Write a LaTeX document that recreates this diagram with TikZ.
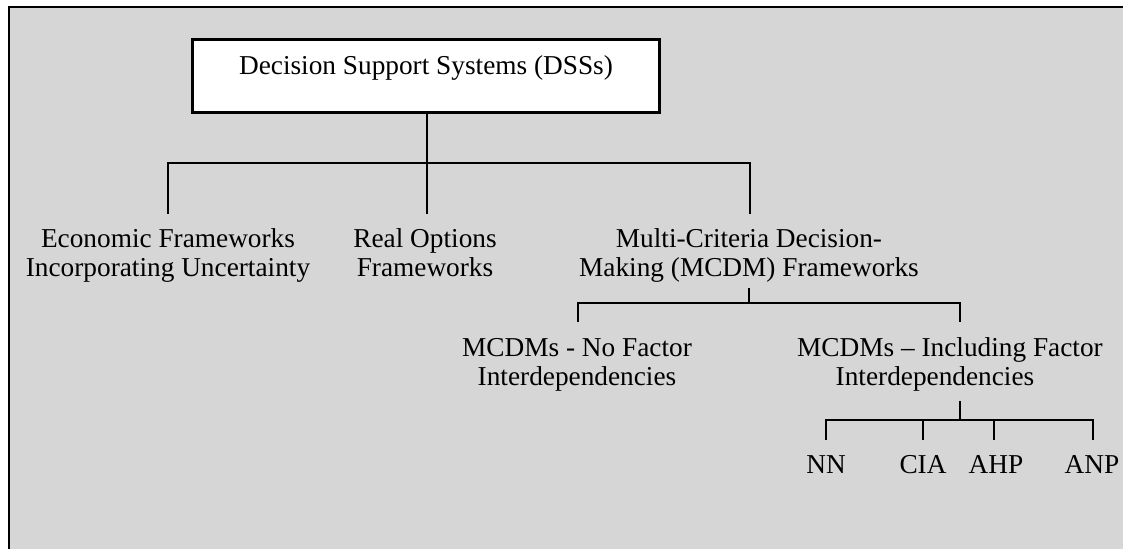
\documentclass[tikz,border=0pt]{standalone}
\usepackage{fontspec}
\setmainfont{Liberation Serif}
\definecolor{panel}{RGB}{214,214,214}
\begin{document}
\begin{tikzpicture}[x=1bp,y=-1bp,
  txt/.style={font=\fontsize{27.4}{30}\selectfont, align=center, inner sep=0pt, anchor=base},
  link/.style={line width=2.5bp, line join=miter}]
\useasboundingbox (0,0) rectangle (1123,549);
\clip (0,0) rectangle (1123,549);
% grey panel with its frame
\draw[line width=2bp, fill=panel] (9,7) rectangle (1140,570);

% root box
\node[draw, line width=3bp, fill=white, minimum width=466bp, inner sep=0pt,
      text height=35bp, text depth=38bp, anchor=north,
      font=\fontsize{27.4}{30}\selectfont] (dss) at (426,38) {Decision Support Systems (DSSs)};

% labels (base anchor sits on the last line)
\node[txt] (econ) at (168,277) {Economic Frameworks\\Incorporating Uncertainty};
\node[txt] (real) at (425,277) {Real Options\\Frameworks};
\node[txt] (mcdm) at (749,277) {Multi-Criteria Decision-\\Making (MCDM) Frameworks};
\node[txt] (nofac) at (577,386) {MCDMs - No Factor\\Interdependencies};
\node[txt] (incl) at (950,386) {MCDMs – Including Factor\\Interdependencies\hspace*{30bp}};
\node[txt] (nn) at (826,473) {NN};
\node[txt] (cia) at (923,473) {CIA};
\node[txt] (ahp) at (996,473) {AHP};
\node[txt] (anp) at (1092,473) {ANP};

% junction points
\coordinate (busA) at (427,163);
\coordinate (e1) at (168,214);
\coordinate (r1) at (427,214);
\coordinate (m1) at (750,214);
\coordinate (m2) at (749,288);
\coordinate (busB) at (749,303);
\coordinate (n1) at (578,322);
\coordinate (i1) at (960,322);
\coordinate (i2) at (960,401);
\coordinate (busC) at (960,420);
\coordinate (nn1) at (826,440);
\coordinate (cia1) at (923,440);
\coordinate (ahp1) at (994,440);
\coordinate (anp1) at (1093,440);

% connectors
\draw[link] (dss.south -| r1) -- (r1);
\draw[link] (e1) |- (busA) -| (m1);
\draw[link] (m2) -- (busB);
\draw[link] (n1) |- (busB) -| (i1);
\draw[link] (i2) -- (busC);
\draw[link] (nn1) |- (busC) -| (anp1);
\draw[link] (cia1) -- (cia1 |- busC);
\draw[link] (ahp1) -- (ahp1 |- busC);
\end{tikzpicture}
\end{document}
